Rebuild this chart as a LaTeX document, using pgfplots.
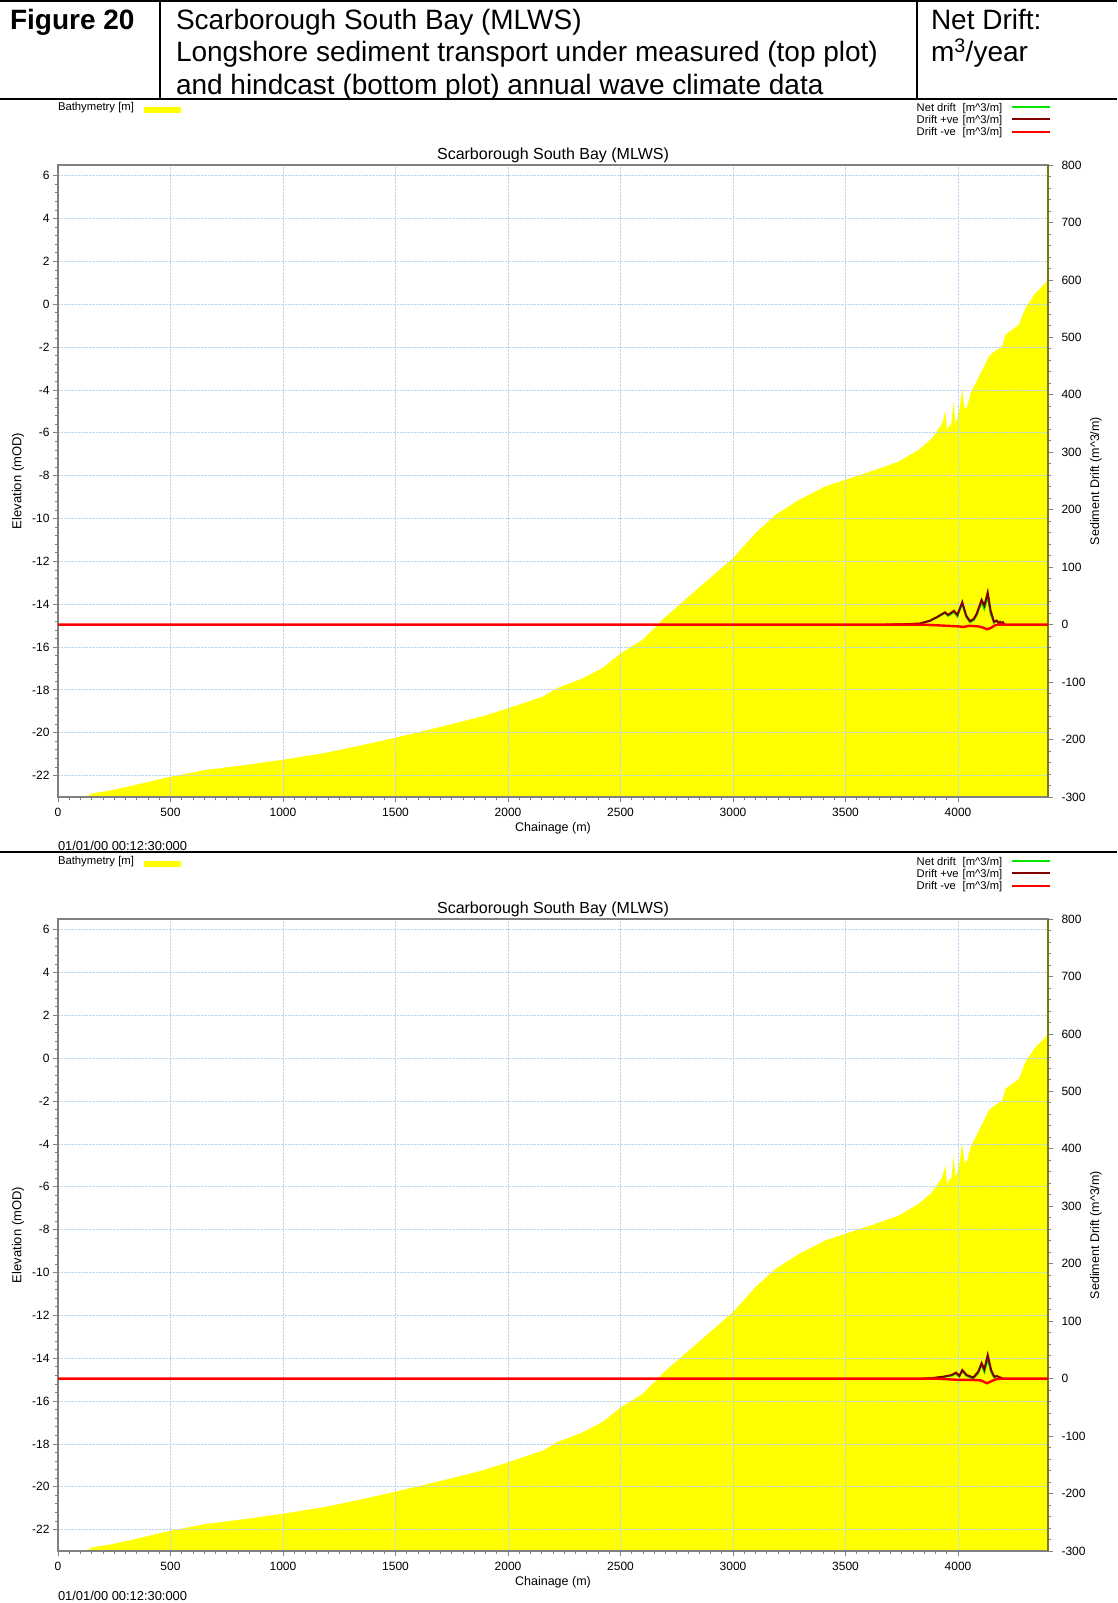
\documentclass[border=0pt]{standalone}
\usepackage{fontspec}
\setmainfont{Liberation Sans}
\usepackage{pgfplots}
\usepackage{pgfplotstable}
\pgfplotsset{compat=1.18}

\definecolor{bathy}{RGB}{255,255,0}
\definecolor{dkred}{RGB}{128,0,0}
\definecolor{netgreen}{RGB}{0,230,0}
\definecolor{gridblue}{RGB}{185,215,245}
\definecolor{framegray}{RGB}{128,128,128}
\definecolor{oliveax}{RGB}{120,120,20}

\pgfplotstableread{
x y
0 -24
0 -23.7
100 -23.15
152 -22.83
230 -22.7
310 -22.52
400 -22.3
500 -22.05
662 -21.73
837 -21.5
1000 -21.26
1189 -20.94
1365 -20.55
1500 -20.23
1716 -19.69
1892 -19.22
2000 -18.86
2156 -18.31
2218 -17.92
2332 -17.46
2420 -16.98
2500 -16.3
2597 -15.67
2665 -14.97
2685 -14.73
2804 -13.64
3000 -11.85
3100 -10.68
3189 -9.83
3293 -9.13
3411 -8.5
3500 -8.19
3633 -7.73
3737 -7.34
3826 -6.79
3885 -6.25
3930 -5.55
3944 -5.0
3952 -5.9
3959 -5.7
3970 -5.6
3981 -4.54
3988 -5.5
3996 -5.4
4008 -4.8
4019 -4.0
4030 -4.9
4041 -4.77
4056 -4.15
4093 -3.37
4137 -2.44
4152 -2.28
4196 -1.97
4211 -1.42
4270 -0.96
4300 -0.18
4344 0.52
4381 0.91
4395 1.07
4398 2.1
4400 2.1
4400 -24
}\bathydata

\pgfplotstableread{
x y
3678 0
3750 0.5
3831 2
3876 7
3910 14
3942 21.5
3956 17
3982 24
3997 17
4019 39
4036 16
4053 6
4070 10
4083 19
4105 43
4117 33
4132 56
4145 24
4160 5
4172 7
4180 3
4187 5
4195 2
4200 4
4205 1
}\posA

\pgfplotstableread{
x y
0 0
3850 0
3900 -1
3950 -2
4000 -3
4025 -4
4050 -2
4090 -3
4110 -5
4130 -8
4145 -6
4160 -2
4175 0
4400 0
}\negA

\pgfplotstableread{
x y
3678 0
3750 0.5
3831 2
3876 6.5
3910 13
3942 20
3956 15
3982 21.5
3997 14
4019 35.5
4036 13
4053 4
4070 7.5
4083 16
4105 38.5
4117 27
4132 48
4145 18
4160 3
4172 7
4180 3
4187 5
4195 2
4200 4
4205 1
}\netA

\pgfplotstableread{
x y
3840 0
3876 0.5
3935 3.5
3972 6.4
3991 10.5
4006 5
4019 15
4038 6.4
4068 2
4090 12
4105 27
4117 16
4132 41
4147 15
4161 3.5
4172 4.7
4187 2
4199 0.5
}\posB

\pgfplotstableread{
x y
0 0
3900 0
3950 -1
4000 -2
4050 -2
4100 -3
4130 -8
4150 -4
4170 -1
4190 0
4400 0
}\negB

\pgfplotstableread{
x y
3840 0
3876 0.5
3935 2.5
3972 5
3991 8.5
4006 3
4019 13
4038 4.4
4068 0
4090 9.5
4105 24
4117 11
4132 33
4147 11
4161 1.5
4172 4
4187 2
4199 0.5
}\netB

\pgfplotsset{
  common/.style={
    width=990pt, height=632pt, scale only axis, anchor=south west,
    xmin=0, xmax=4400,
    tick align=outside, major tick length=5pt, minor tick length=3pt,
    tick style={framegray, line width=0.8pt},
    tick label style={font=\fontsize{12}{14}\selectfont},
    /pgf/number format/1000 sep={},
    /pgf/number format/assume math mode=true,
  },
  leftax/.style={common,
    ymin=-23, ymax=6.5,
    xtick={0,500,...,4000}, minor x tick num=9,
    ytick={-22,-20,...,6}, minor y tick num=4,
    xtick pos=bottom, ytick pos=left,
    xticklabel shift=3pt,
    axis line style={framegray, line width=1.3pt},
    grid=major, major grid style={gridblue, densely dotted, line width=0.8pt},
    axis on top,
  },
  rightax/.style={common,
    ymin=-300, ymax=800,
    axis x line=none, axis y line*=right,
    ytick={-300,-200,...,800}, minor y tick num=4,
    yticklabel shift=5pt,
    y axis line style={oliveax, line width=1.3pt},
  },
}

\tikzset{t/.style={inner sep=0pt, outer sep=0pt}}

\newcommand\panel[5]{%
\begin{scope}[yshift=-#1pt]
\begin{axis}[leftax, at={(58pt,-797pt)}]
  \addplot[fill=bathy, draw=none] table {\bathydata};
\end{axis}
\begin{axis}[rightax, at={(58pt,-797pt)}]
  \addplot[netgreen, line width=1.6pt] table {#4};
  \addplot[dkred, line width=2pt] table {#2};
  \addplot[red, line width=2.4pt] table {#3};
\end{axis}
\node[t, anchor=base, font=\fontsize{16}{18}\selectfont] at (553pt,-159.5pt) {Scarborough South Bay (MLWS)};
\node[t, anchor=base, font=\fontsize{12.5}{14}\selectfont] at (553pt,-831.5pt) {Chainage (m)};
\node[t, rotate=90, font=\fontsize{13}{14}\selectfont] at (18pt,-481pt) {Elevation (mOD)};
\node[t, rotate=90, font=\fontsize{12.5}{14}\selectfont] at (1096pt,-481pt) {Sediment Drift (m\textasciicircum 3/m)};
\node[t, anchor=base west, font=\fontsize{12.9}{14}\selectfont] at (58pt,-#5pt) {01/01/00 00:12:30:000};
\node[t, anchor=base west, font=\fontsize{11.3}{13}\selectfont] at (58pt,-110.7pt) {Bathymetry [m]};
\fill[bathy] (144pt,-106.7pt) rectangle (181pt,-112.7pt);
\begin{scope}[every node/.style={t, anchor=base west, font=\fontsize{11.2}{13}\selectfont}]
\node at (916.7pt,-111pt) {Net drift};
\node at (962.7pt,-111pt) {[m\textasciicircum 3/m]};
\node at (916.7pt,-123.3pt) {Drift +ve};
\node at (962.7pt,-123.3pt) {[m\textasciicircum 3/m]};
\node at (916.7pt,-135.7pt) {Drift -ve};
\node at (962.7pt,-135.7pt) {[m\textasciicircum 3/m]};
\end{scope}
\draw[netgreen, line width=1.8pt] (1012pt,-106.7pt) -- (1050pt,-106.7pt);
\draw[dkred, line width=1.8pt] (1012pt,-119pt) -- (1050pt,-119pt);
\draw[red, line width=1.8pt] (1012pt,-132.3pt) -- (1050pt,-132.3pt);
\end{scope}}

\begin{document}
\begin{tikzpicture}
\useasboundingbox (0pt,0pt) rectangle (1117pt,-1603pt);
% header box
\draw[line width=1.3pt] (0pt,-1pt) -- (1117pt,-1pt);
\draw[line width=1.3pt] (0pt,-99pt) -- (1117pt,-99pt);
\draw[line width=1.3pt] (160pt,-1pt) -- (160pt,-99pt);
\draw[line width=1.3pt] (917pt,-1pt) -- (917pt,-99pt);
\draw[line width=1.3pt] (0pt,-852pt) -- (1117pt,-852pt);
\begin{scope}[every node/.style={t, anchor=base west, font=\fontsize{28}{32}\selectfont}]
\node[font=\fontsize{28}{32}\selectfont\bfseries] at (10pt,-29.5pt) {Figure 20};
\node at (176pt,-29.5pt) {Scarborough South Bay (MLWS)};
\node at (176pt,-62pt) {Longshore sediment transport under measured (top plot)};
\node at (176pt,-94pt) {and hindcast (bottom plot) annual wave climate data};
\node at (931pt,-29.5pt) {Net Drift:};
\node at (931pt,-62pt) {m\textsuperscript{3}/year};
\end{scope}
\panel{0}{\posA}{\negA}{\netA}{850}
\panel{754}{\posB}{\negB}{\netB}{846}
\end{tikzpicture}
\end{document}
